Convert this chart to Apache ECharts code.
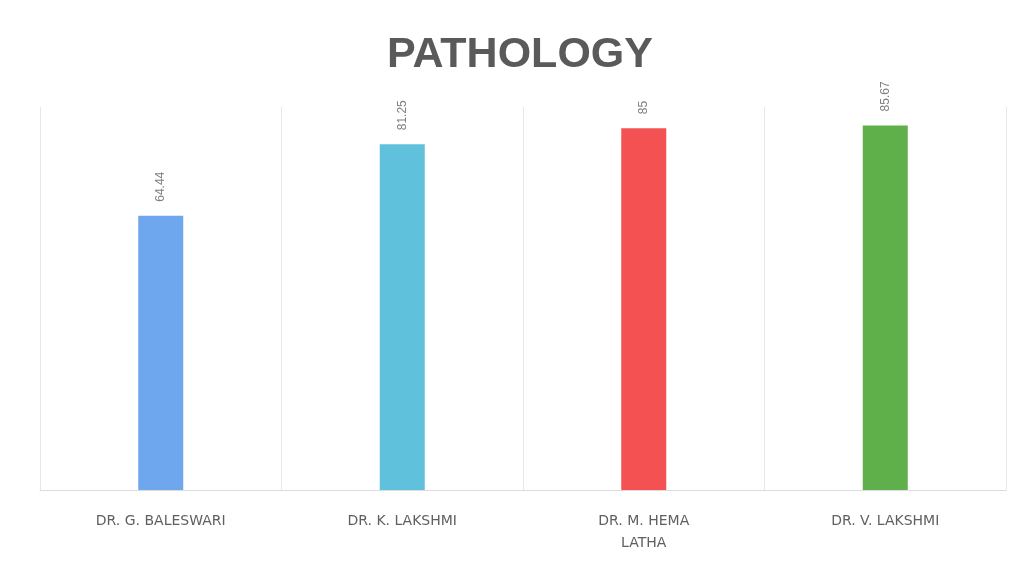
<!DOCTYPE html>
<html>
<head>
<meta charset="utf-8">
<script src="https://cdn.jsdelivr.net/npm/echarts@6/dist/echarts.min.js"></script>
<style>
html,body{margin:0;padding:0;background:#fff;}
#chart{width:1023px;height:563px;}
</style>
</head>
<body>
<div id="chart"></div>
<script>
const categories = ['DR. G. BALESWARI', 'DR. K. LAKSHMI', 'DR. M. HEMA\nLATHA', 'DR. V. LAKSHMI'];
const values = [64.44, 81.25, 85, 85.67];
const colors = ['#6fa7ee', '#5fc1dc', '#f45252', '#5fb04b'];

const chart = echarts.init(document.getElementById('chart'));
chart.setOption({
  backgroundColor: '#ffffff',
  animation: false,
  title: {
    text: 'PATHOLOGY',
    left: 382,
    top: 29,
    textStyle: { fontFamily: 'Liberation Sans, Arial, sans-serif', fontSize: 43, fontWeight: 'bold', color: '#5a5a5a' }
  },
  grid: { left: 40, right: 17, top: 107, bottom: 73 },
  xAxis: {
    type: 'category',
    data: categories,
    axisLine: { show: true, lineStyle: { color: '#dcdcdc' } },
    axisTick: { show: false },
    splitLine: { show: true, lineStyle: { color: '#e6e6e6' } },
    axisLabel: {
      interval: 0,
      margin: 20,
      color: '#606060',
      fontFamily: 'DejaVu Sans, sans-serif',
      fontSize: 14,
      lineHeight: 22
    }
  },
  yAxis: {
    type: 'value',
    min: 0,
    max: 90,
    show: false,
    splitLine: { show: false }
  },
  series: [{
    type: 'bar',
    barWidth: 45,
    data: values.map((v, i) => ({ value: v, itemStyle: { color: colors[i] } })),
    label: {
      show: true,
      position: 'top',
      rotate: 90,
      align: 'left',
      verticalAlign: 'middle',
      distance: 14,
      color: '#808080',
      fontSize: 12,
      fontFamily: 'Liberation Sans, Arial, sans-serif'
    }
  }]
});
</script>
</body>
</html>
